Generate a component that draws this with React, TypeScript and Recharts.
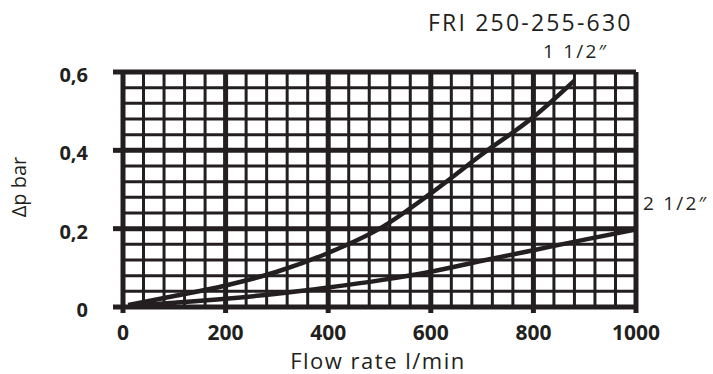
import React from 'react'
import { LineChart, Line, XAxis, YAxis, ReferenceLine } from 'recharts'

// flow rate l/min -> pressure drop bar
const size15Flow = [10, 100, 200, 300, 400, 500, 600, 700, 800, 880]
const size15Dp = [0.005, 0.028, 0.055, 0.09, 0.138, 0.2, 0.29, 0.39, 0.485, 0.578]
const size25Flow = [10, 100, 200, 300, 400, 500, 600, 700, 800, 900, 1000]
const size25Dp = [0.003, 0.011, 0.021, 0.034, 0.05, 0.068, 0.09, 0.118, 0.145, 0.172, 0.198]

const xTicks = [0, 200, 400, 600, 800, 1000]
const yTicks = [0, 0.2, 0.4, 0.6]
const xMinor = Array.from({ length: 26 }, (_, i) => i * 40)
const yMinor = Array.from({ length: 16 }, (_, i) => +(i * 0.04).toFixed(2))

const INK = '#231f20'
const FONT = '"Open Sans", sans-serif'

const size15 = size15Flow.map((q, i) => ({ q, dp: size15Dp[i] }))
const size25 = size25Flow.map((q, i) => ({ q, dp: size25Dp[i] }))

function YTick(props: any) {
  const { y, payload } = props
  const label = String(payload.value).replace('.', ',')
  return (
    <text x={88} y={y} dy={10} textAnchor="end" fontFamily={FONT} fontWeight={700} fontSize={20} fill={INK}>
      {label}
    </text>
  )
}

function XTick(props: any) {
  const { x, payload } = props
  return (
    <text x={x} y={340} textAnchor="middle" fontFamily={FONT} fontWeight={700} fontSize={21} fill={INK}>
      {payload.value}
    </text>
  )
}

export default function App() {
  return (
    <div style={{ position: 'fixed', left: 0, top: 0, width: 713, height: 374, background: '#fff' }}>
      <LineChart width={713} height={374} margin={{ top: 72, right: 77, bottom: 27, left: 73 }}>
        <XAxis
          type="number" dataKey="q" domain={[0, 1000]} ticks={xTicks} height={40}
          axisLine={false} tickSize={6} tickLine={{ stroke: INK, strokeWidth: 5 }} tick={<XTick />}
          allowDataOverflow
        />
        <YAxis
          type="number" dataKey="dp" domain={[0, 0.6]} ticks={yTicks} width={50}
          axisLine={false} tickSize={10} tickLine={{ stroke: INK, strokeWidth: 5 }} tick={<YTick />}
          allowDataOverflow
        />
        {xMinor.map(v => (
          <ReferenceLine key={'x' + v} x={v} stroke={INK} strokeWidth={v % 200 === 0 ? 5 : 3} />
        ))}
        {yMinor.map(v => (
          <ReferenceLine key={'y' + v} y={v} stroke={INK} strokeWidth={Math.round(v * 100) % 20 === 0 ? 5 : 3} />
        ))}
        <Line data={size15} dataKey="dp" type="monotone" stroke={INK} strokeWidth={4.5} dot={false} isAnimationActive={false} />
        <Line data={size25} dataKey="dp" type="monotone" stroke={INK} strokeWidth={4.5} dot={false} isAnimationActive={false} />
      </LineChart>
      <svg width={713} height={374} style={{ position: 'absolute', left: 0, top: 0, pointerEvents: 'none' }}>
        <text x={428} y={31} fontFamily={FONT} fontSize={23} letterSpacing={2.2} fill={INK}>FRI 250-255-630</text>
        <text x={543} y={58} fontFamily={FONT} fontSize={19} letterSpacing={2.2} fill={INK}>1 1/2″</text>
        <text x={643} y={210} fontFamily={FONT} fontSize={19} letterSpacing={2.2} fill={INK}>2 1/2″</text>
        <text x={378} y={369} textAnchor="middle" fontFamily={FONT} fontSize={22} letterSpacing={1.5} fill={INK}>Flow rate l/min</text>
        <text x={0} y={0} transform="translate(26 187) rotate(-90)" textAnchor="middle" fontFamily={FONT} fontSize={20} fill={INK}>Δp bar</text>
      </svg>
    </div>
  )
}
